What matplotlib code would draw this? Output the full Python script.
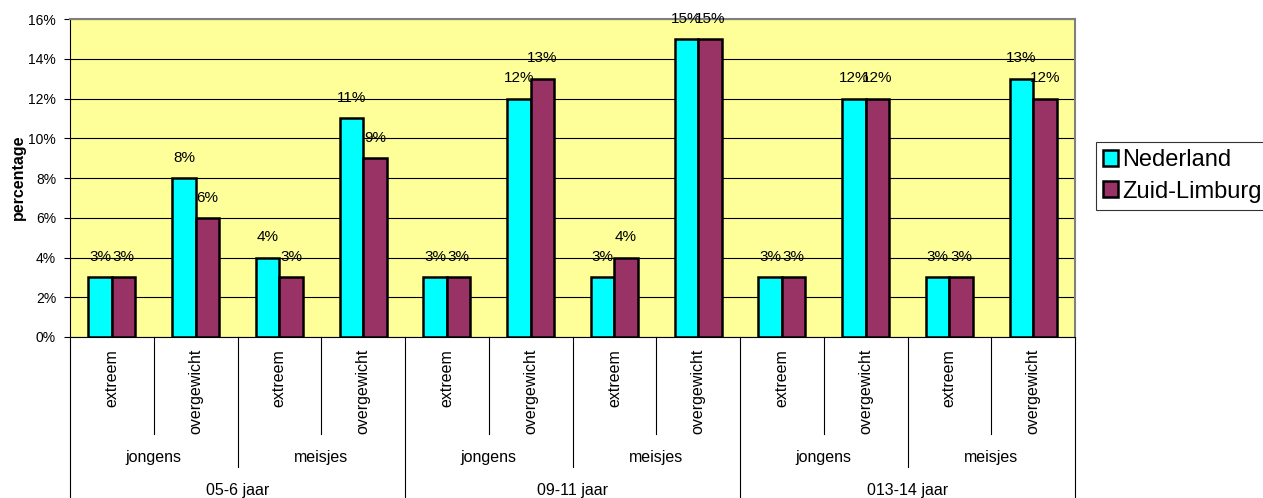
import matplotlib
matplotlib.use("Agg")
import matplotlib.pyplot as plt
import matplotlib.transforms as mtransforms
import numpy as np

plt.rcParams['font.family'] = ['Liberation Sans', 'DejaVu Sans']

ages = ["05-6 jaar", "09-11 jaar", "013-14 jaar"]
genders = ["jongens", "meisjes"]
types = ["extreem", "overgewicht"]
nederland = [3, 8, 4, 11, 3, 12, 3, 15, 3, 12, 3, 13]
zuid_limburg = [3, 6, 3, 9, 3, 13, 4, 15, 3, 12, 3, 12]
series_names = ["Nederland", "Zuid-Limburg"]
yticks = [0, 2, 4, 6, 8, 10, 12, 14, 16]

W, H = 1263, 498
fig = plt.figure(figsize=(W / 100, H / 100), dpi=100)
L, R, T, B = 70, 1075, 19, 337
ax = fig.add_axes([L / W, (H - B) / H, (R - L) / W, (B - T) / H])
ax.set_facecolor('#FFFF99')

n = len(nederland)
x = np.arange(n)
bw = 0.28
ax.bar(x - bw / 2, nederland, bw, color='#00FFFF', edgecolor='black', linewidth=1.8, zorder=3, label=series_names[0])
ax.bar(x + bw / 2, zuid_limburg, bw, color='#993366', edgecolor='black', linewidth=1.8, zorder=3, label=series_names[1])

for xi, v in zip(x - bw / 2, nederland):
    ax.annotate(f"{v}%", (xi, v), xytext=(0, 14.5), textcoords='offset points', ha='center', va='center', fontsize=11, zorder=5, annotation_clip=False)
for xi, v in zip(x + bw / 2, zuid_limburg):
    ax.annotate(f"{v}%", (xi, v), xytext=(0, 14.5), textcoords='offset points', ha='center', va='center', fontsize=11, zorder=5, annotation_clip=False)

ax.set_xlim(-0.5, n - 0.5)
ax.set_ylim(0, 16)
ax.set_yticks(yticks)
ax.set_yticklabels([f"{t}%" for t in yticks], fontsize=10)
ax.yaxis.grid(True, color='black', linewidth=0.8, zorder=1)
ax.set_axisbelow(True)
ax.set_xticks([])
ax.tick_params(axis='y', length=4, width=0.8, pad=6)
for s in ['top', 'right']:
    ax.spines[s].set_color('#808080')
    ax.spines[s].set_linewidth(1.5)
ax.spines['left'].set_color('black')
ax.spines['bottom'].set_color('black')
fig.text(18 / W, 1 - 177 / H, "percentage", rotation=90, ha='center', va='center', fontsize=11.5, fontweight='bold')

trans = mtransforms.blended_transform_factory(ax.transData, ax.transAxes)
ph = B - T

def fy(px):
    return -(px - B) / ph

# level 1 labels
for i in range(n):
    ax.text(i, fy(349), types[i % 2], rotation=90, ha='center', va='top', fontsize=11.5, transform=trans)
# level 2 labels
for g in range(6):
    ax.text(2 * g + 0.5, fy(457), genders[g % 2], ha='center', va='center', fontsize=11.5, transform=trans)
# level 3 labels
for a in range(3):
    ax.text(4 * a + 1.5, fy(490), ages[a], ha='center', va='center', fontsize=11.5, transform=trans)

# separators
for b in range(n + 1):
    xb = b - 0.5
    if b % 4 == 0:
        yb = fy(500)
    elif b % 2 == 0:
        yb = fy(467)
    else:
        yb = fy(434)
    ax.plot([xb, xb], [0, yb], transform=trans, color='black', linewidth=0.8, clip_on=False)

leg = fig.legend(loc='upper left', bbox_to_anchor=(1096 / W, 1 - 142 / H), bbox_transform=fig.transFigure,
                 borderaxespad=0, fontsize=17, handlelength=0.65, handleheight=0.65, handletextpad=0.15,
                 frameon=True, fancybox=False, edgecolor='black', borderpad=0.3, labelspacing=0.4)
leg.get_frame().set_linewidth(0.8)

fig.savefig("out.png", dpi=100)
